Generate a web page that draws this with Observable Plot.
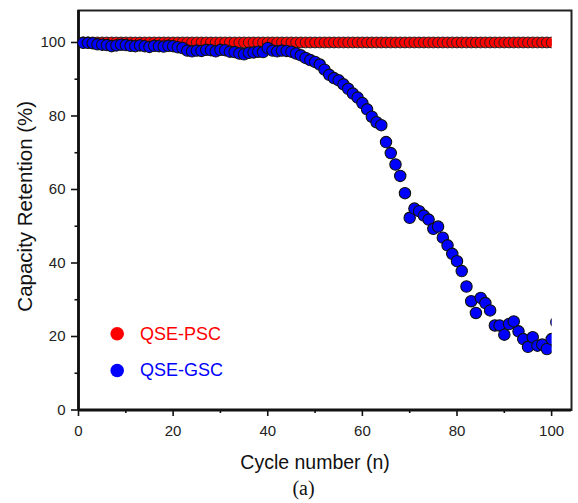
<!DOCTYPE html>
<html>
<head>
<meta charset="utf-8">
<script src="https://cdn.jsdelivr.net/npm/d3@7"></script>
<script src="https://cdn.jsdelivr.net/npm/@observablehq/plot@0.6"></script>
<style>
  html, body { margin: 0; padding: 0; background: #fff; }
  svg { display: block; }
</style>
</head>
<body>
<div id="chart"></div>
<script>
// Cycle numbers
const cyclesPSC = [1,2,3,4,5,6,7,8,9,10,11,12,13,14,15,16,17,18,19,20,21,22,23,24,25,26,27,28,29,30,31,32,33,34,35,36,37,38,39,40,41,42,43,44,45,46,47,48,49,50,51,52,53,54,55,56,57,58,59,60,61,62,63,64,65,66,67,68,69,70,71,72,73,74,75,76,77,78,79,80,81,82,83,84,85,86,87,88,89,90,91,92,93,94,95,96,97,98,99,100];
const cyclesGSC = [1,2,3,4,5,6,7,8,9,10,11,12,13,14,15,16,17,18,19,20,21,22,23,24,25,26,27,28,29,30,31,32,33,34,35,36,37,38,39,40,41,42,43,44,45,46,47,48,49,50,51,52,53,54,55,56,57,58,59,60,61,62,63,64,65,66,67,68,69,70,71,72,73,74,75,76,77,78,79,80,81,82,83,84,85,86,87,88,89,90,91,92,93,94,95,96,97,98,99,100,101];

// Capacity retention (%)
const retentionPSC = [100,100,100,100,100,100,100,100,100,100,100,100,100,100,100,100,100,100,100,100,100,100,100,100,100,100,100,100,100,100,100,100,100,100,100,100,100,100,100,100,100,100,100,100,100,100,100,100,100,100,100,100,100,100,100,100,100,100,100,100,100,100,100,100,100,100,100,100,100,100,100,100,100,100,100,100,100,100,100,100,100,100,100,100,100,100,100,100,100,100,100,100,100,100,100,100,100,100,100,100];
const retentionGSC = [
  99.9, 99.9, 99.8, 99.5, 99.4, 99.3, 99.0, 99.2, 99.4, 99.3,
  99.1, 99.0, 99.2, 99.0, 98.8, 99.1, 99.0, 98.9, 99.1, 99.0,
  98.7, 98.5, 97.8, 97.6, 97.8, 97.7, 98.0, 97.9, 97.6, 98.0,
  97.9, 97.5, 97.4, 97.0, 96.8, 97.2, 97.3, 97.5, 97.4, 98.5,
  97.8, 97.6, 97.8, 97.7, 97.5, 97.0, 96.5, 95.8, 95.2, 94.7,
  94.0, 92.6, 91.2, 90.3, 89.7, 88.6, 87.4, 86.1, 85.0, 83.5,
  81.8, 79.8, 78.3, 77.5, 72.9, 69.9, 66.8, 63.7, 59.0, 52.3,
  54.8, 54.1, 52.9, 51.8, 49.3, 49.9, 46.9, 44.8, 42.5, 40.5,
  37.8, 33.6, 29.6, 26.4, 30.5, 29.1, 27.1, 23.0, 23.0, 20.5,
  23.4, 24.1, 21.4, 19.3, 17.2, 19.8, 17.5, 17.8, 16.6, 19.3,
  23.9
];

const seriesNames = ["QSE-PSC", "QSE-GSC"];
const seriesColors = ["#ff0000", "#0000ff"];

const xMajor = [0, 20, 40, 60, 80, 100];
const xMinor = [10, 30, 50, 70, 90];
const yMajor = [0, 20, 40, 60, 80, 100];
const yMinor = [10, 30, 50, 70, 90];

const xTitle = "Cycle number (n)";
const yTitle = "Capacity Retention (%)";
const caption = "(a)";

const psc = cyclesPSC.map((c, i) => ({cycle: c, value: retentionPSC[i]}));
const gsc = cyclesGSC.map((c, i) => ({cycle: c, value: retentionGSC[i]}));

const legendMarks = seriesNames.flatMap((name, i) => [
  Plot.dot([name], {frameAnchor: "bottom-left", dx: 38.7, dy: -76.2 + i * 36.7, r: 6.8, fill: seriesColors[i]}),
  Plot.text([name], {frameAnchor: "bottom-left", dx: 61.5, dy: -76.2 + i * 36.7, text: d => d, fill: seriesColors[i], fontSize: 18, textAnchor: "start", lineAnchor: "middle"})
]);

const chart = Plot.plot({
  width: 578,
  height: 503,
  marginLeft: 78,
  marginRight: 7,
  marginTop: 10,
  marginBottom: 93.5,
  style: {fontFamily: "'Liberation Sans', Arial, sans-serif", fontSize: "15px", color: "#222", background: "#fff"},
  x: {domain: [0, 104.2]},
  y: {domain: [0, 108.7]},
  marks: [
    Plot.frame({stroke: "#222", strokeWidth: 2, strokeOpacity: 1}),
    Plot.axisX({ticks: xMajor, tickSize: 6.5, tickPadding: 8.5, label: null, tickFormat: d => String(d), stroke: "#111", strokeWidth: 1.6, fontSize: 15}),
    Plot.axisX({ticks: xMinor, tickSize: 3.5, label: null, tickFormat: () => "", stroke: "#111", strokeWidth: 1.6}),
    Plot.axisY({ticks: yMajor, tickSize: 7, tickPadding: 6, label: null, tickFormat: d => String(d), stroke: "#111", strokeWidth: 1.6, fontSize: 15}),
    Plot.axisY({ticks: yMinor, tickSize: 3.5, label: null, tickFormat: () => "", stroke: "#111", strokeWidth: 1.6}),
    Plot.ruleX([0], {y1: 0, y2: 108.7, stroke: "#111", strokeWidth: 2.8, strokeOpacity: 1}),
    Plot.ruleY([0], {x1: 0, x2: 104.2, stroke: "#111", strokeWidth: 2.8, strokeOpacity: 1}),
    Plot.dot(psc, {x: "cycle", y: "value", r: 5.4, fill: seriesColors[0], stroke: "#222", strokeWidth: 1}),
    Plot.dot(gsc, {x: "cycle", y: "value", r: 5.7, fill: seriesColors[1], stroke: "#111", strokeWidth: 1.1}),
    ...legendMarks,
    Plot.text([xTitle], {x: [50], frameAnchor: "bottom", dy: 58.5, text: d => d, fontSize: 19.5, fill: "#111", lineAnchor: "bottom", textAnchor: "middle"}),
    Plot.text([yTitle], {frameAnchor: "left", dx: -53, dy: -4, rotate: -90, text: d => d, fontSize: 20.5, fill: "#111", lineAnchor: "middle", textAnchor: "middle"}),
    Plot.text([caption], {frameAnchor: "bottom-left", dx: 225, dy: 84.5, text: d => d, fontSize: 20, fill: "#111", fontFamily: "'Liberation Serif', 'Times New Roman', serif", lineAnchor: "bottom", textAnchor: "middle"})
  ]
});

// Data are clipped at cycle 100 as in the original figure
const xs = chart.scale("x");
const svg = d3.select(chart);
const clipW = xs.apply(100);
svg.insert("defs", ":first-child")
  .append("clipPath").attr("id", "clip100")
  .append("rect").attr("x", 0).attr("y", 0).attr("width", clipW).attr("height", 503);
svg.selectAll('g[aria-label="dot"]').attr("clip-path", "url(#clip100)");

document.getElementById("chart").appendChild(chart);
</script>
</body>
</html>
